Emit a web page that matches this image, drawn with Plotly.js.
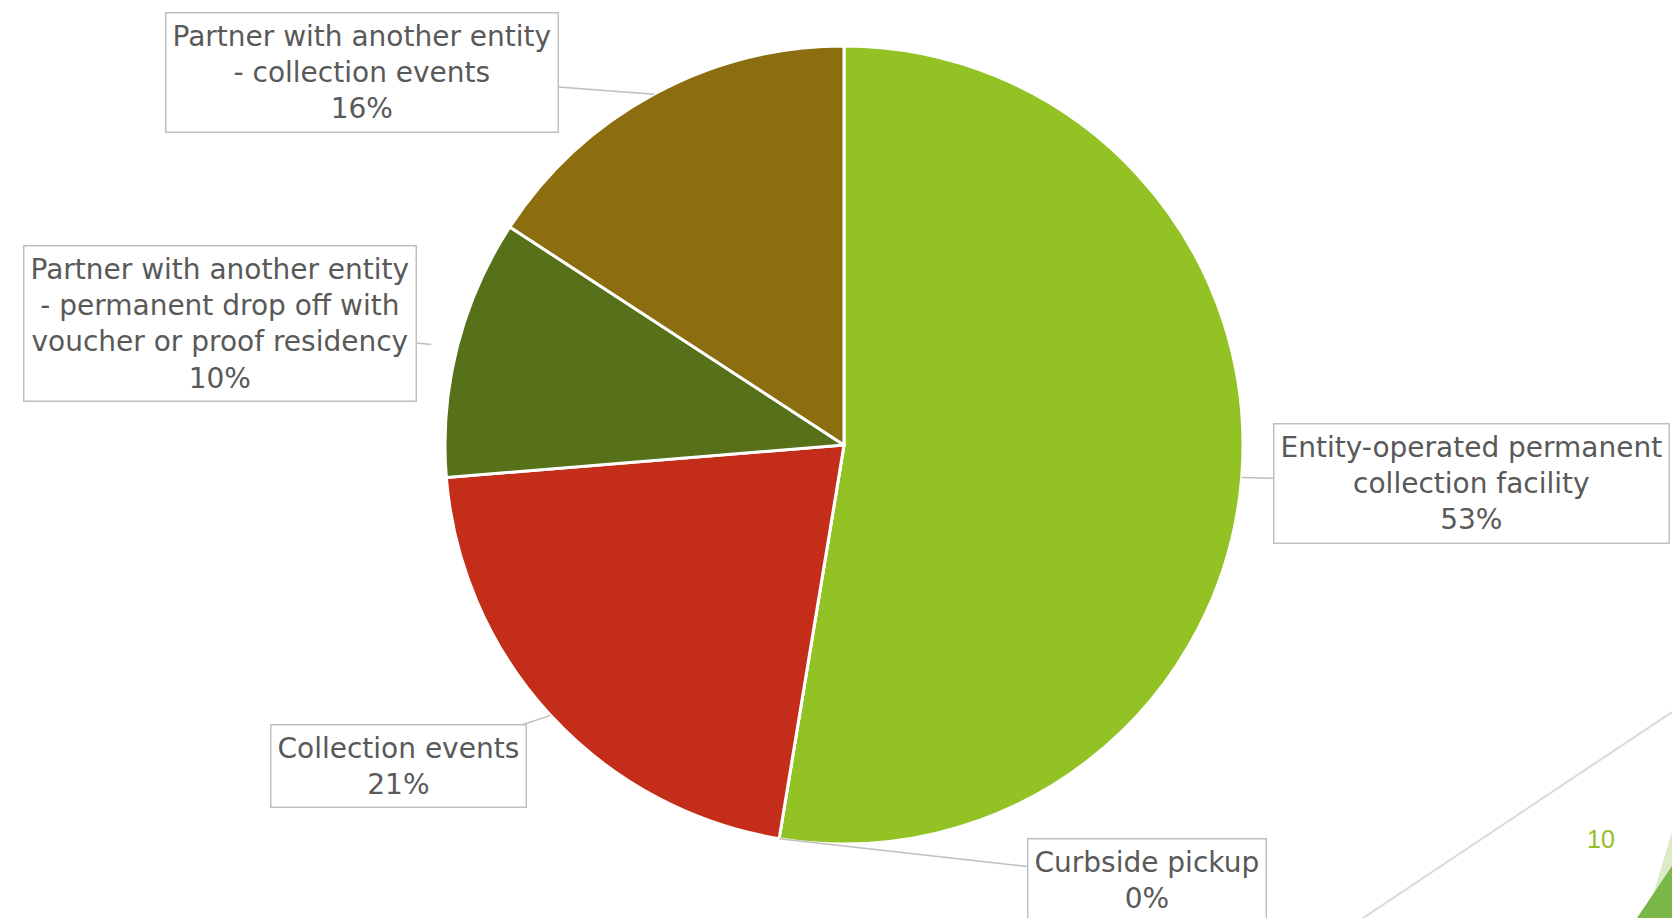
<!DOCTYPE html>
<html>
<head>
<meta charset="utf-8">
<script src="https://cdn.plot.ly/plotly-3.0.1.min.js"></script>
<style>html,body{margin:0;padding:0;background:#fff;}#chart{width:1672px;height:918px;}</style>
</head>
<body>
<div id="chart"></div>
<script>
// ---- data ----
const categories = [
  "Entity-operated permanent<br>collection facility",
  "Curbside pickup",
  "Collection events",
  "Partner with another entity<br>- permanent drop off with<br>voucher or proof residency",
  "Partner with another entity<br>- collection events"
];
const shares = [52.6, 0, 21.1, 10.5, 15.8];          // slice sizes estimated from angles
const pctLabels = ["53%", "0%", "21%", "10%", "16%"];  // labels as printed
const sliceColors = ["#93c225", "#93c225", "#c32d19", "#56711a", "#8c6d10"];

// ---- layout constants ----
const W = 1672, H = 918;
const CX = 844, CY = 445, R = 399;
// label box centres (pixels) and standoff
const boxCentres = [[1471, 483], [1147, 880], [398, 766], [220, 324], [362, 72]];
const standoffs = [0, 0, 0, 26, 0];

const total = shares.reduce((a, b) => a + b, 0);
let cum = 0;
const annotations = shares.map((v, i) => {
  const mid = (cum + v / 2) / total * 2 * Math.PI;
  cum += v;
  const tx = CX + R * Math.sin(mid), ty = CY - R * Math.cos(mid);
  const [bx, by] = boxCentres[i];
  return {
    xref: 'paper', yref: 'paper',
    x: tx / W, y: 1 - ty / H,
    ax: bx - tx, ay: by - ty, axref: 'pixel', ayref: 'pixel',
    text: categories[i] + '<br>' + pctLabels[i],
    showarrow: true, arrowhead: 0, arrowwidth: 1.5, arrowcolor: '#bfbfbf',
    standoff: standoffs[i],
    bordercolor: '#bfbfbf', borderwidth: 1.5, borderpad: 6, bgcolor: '#ffffff',
    font: {family: 'DejaVu Sans', size: 28, color: '#595959'},
    align: 'center'
  };
});

annotations.push({
  xref: 'paper', yref: 'paper', x: 1617 / W, y: 1 - 855 / H,
  text: '10', showarrow: false,
  font: {family: 'Liberation Sans', size: 25, color: '#92c126'}
});

const trace = {
  type: 'pie',
  labels: categories,
  values: shares,
  sort: false,
  direction: 'clockwise',
  rotation: 0,
  textinfo: 'none',
  hoverinfo: 'label+percent',
  marker: {colors: sliceColors, line: {color: '#ffffff', width: 3}},
  domain: {x: [(CX - R) / W, (CX + R) / W], y: [1 - (CY + R) / H, 1 - (CY - R) / H]},
  showlegend: false
};

const px = (x) => (x / W).toFixed(5), py = (y) => (1 - y / H).toFixed(5);
const shapes = [
  {type: 'line', xref: 'paper', yref: 'paper', x0: 1363 / W, y0: 1 - 918 / H, x1: 1, y1: 1 - 712 / H,
   line: {color: '#d9d9d9', width: 2}, layer: 'below'},
  {type: 'path', xref: 'paper', yref: 'paper',
   path: `M ${px(1672)} ${py(832)} L ${px(1646)} ${py(918)} L ${px(1672)} ${py(918)} Z`,
   fillcolor: '#dcebc6', line: {width: 0}},
  {type: 'path', xref: 'paper', yref: 'paper',
   path: `M ${px(1637)} ${py(918)} L ${px(1672)} ${py(866)} L ${px(1672)} ${py(918)} Z`,
   fillcolor: '#7ab648', line: {width: 0}}
];

const layout = {
  width: W, height: H,
  margin: {l: 0, r: 0, t: 0, b: 0},
  paper_bgcolor: '#ffffff',
  annotations: annotations,
  shapes: shapes,
  showlegend: false
};

Plotly.newPlot('chart', [trace], layout, {displayModeBar: false, staticPlot: true});
</script>
</body>
</html>
